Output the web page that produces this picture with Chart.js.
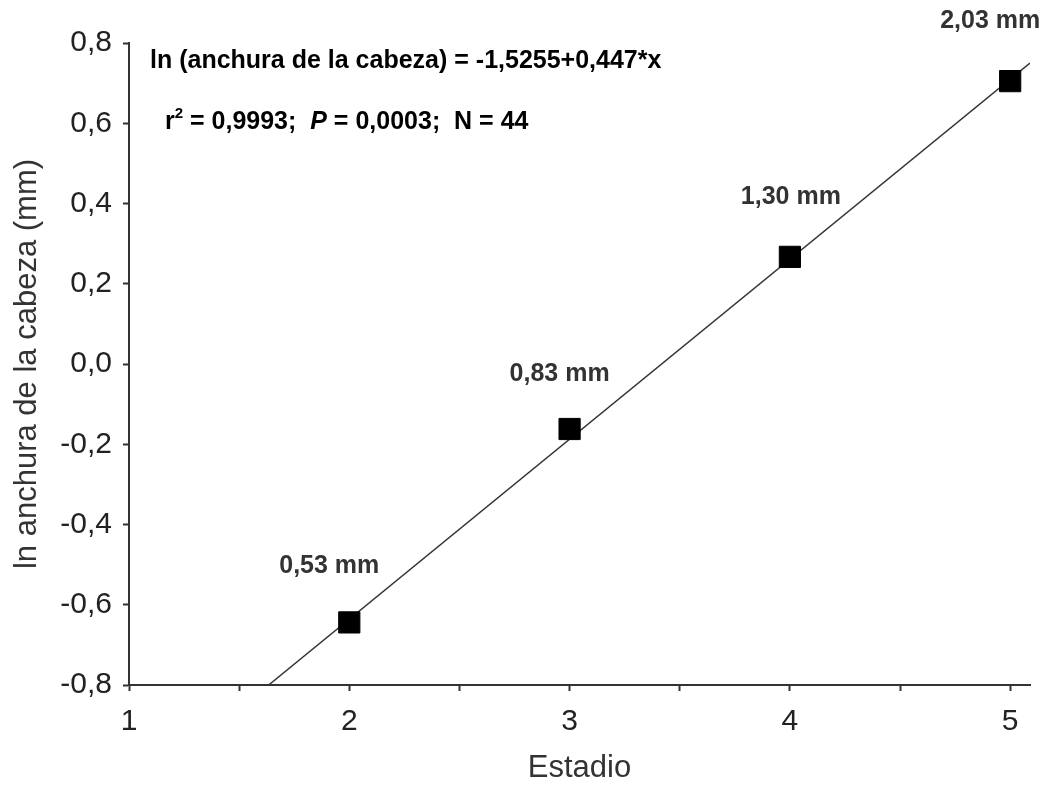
<!DOCTYPE html>
<html>
<head>
<meta charset="utf-8">
<title>ln anchura de la cabeza vs Estadio</title>
<script src="https://cdn.jsdelivr.net/npm/chart.js@4/dist/chart.umd.min.js"></script>
<style>
  html, body { margin: 0; padding: 0; background: #fff; }
  #wrap { width: 1049px; height: 785px; }
</style>
</head>
<body>
<div id="wrap"><canvas id="chart" width="1049" height="785"></canvas></div>
<script>
// ---- data ----
var stages = [2, 3, 4, 5];
var lnWidth = [-0.644, -0.162, 0.267, 0.705];
var widthLabels = ['0,53 mm', '0,83 mm', '1,30 mm', '2,03 mm'];

// fitted line, end points as they appear in the figure
var fitX = [1.634, 5.09];
var fitY = [-0.8, 0.750];

var xTickValues = [1, 1.5, 2, 2.5, 3, 3.5, 4, 4.5, 5];
var xTickLabels = ['1', '', '2', '', '3', '', '4', '', '5'];
var yTickValues = [-0.8, -0.6, -0.4, -0.2, 0, 0.2, 0.4, 0.6, 0.8];
var yTickLabels = ['-0,8', '-0,6', '-0,4', '-0,2', '0,0', '0,2', '0,4', '0,6', '0,8'];

var FONT = '"Liberation Sans", Arial, sans-serif';

// label offsets (px) from each marker
var labelOffsets = [[-20, -56], [-10, -55], [1, -60], [-20, -60]];

var annotations = {
    id: 'annotations',
    afterDatasetsDraw: function (chart) {
        var ctx = chart.ctx;
        var xs = chart.scales.x, ys = chart.scales.y;
        ctx.save();

        // value labels above the markers
        ctx.font = 'bold 25px ' + FONT;
        ctx.fillStyle = '#333';
        ctx.textAlign = 'center';
        ctx.textBaseline = 'middle';
        for (var i = 0; i < stages.length; i++) {
            var px = xs.getPixelForValue(stages[i]) + labelOffsets[i][0];
            var py = ys.getPixelForValue(lnWidth[i]) + labelOffsets[i][1];
            ctx.fillText(widthLabels[i], px, py);
        }

        // regression equation
        ctx.fillStyle = '#000';
        ctx.textAlign = 'left';
        ctx.textBaseline = 'alphabetic';
        ctx.font = 'bold 25px ' + FONT;
        ctx.fillText('ln (anchura de la cabeza) = -1,5255+0,447*x', 150, 68);

        var x = 165, y = 129;
        var parts = [
            ['r', 'bold 25px '],
            ['2', 'bold 15px ', -11],
            [' = 0,9993;  ', 'bold 25px '],
            ['P', 'italic bold 25px '],
            [' = 0,0003;  N = 44', 'bold 25px ']
        ];
        parts.forEach(function (p) {
            ctx.font = p[1] + FONT;
            ctx.fillText(p[0], x, y + (p[2] || 0));
            x += ctx.measureText(p[0]).width;
        });
        ctx.restore();
    }
};

new Chart(document.getElementById('chart'), {
    type: 'scatter',
    data: {
        datasets: [{
            label: 'ln anchura',
            data: stages.map(function (s, i) { return { x: s, y: lnWidth[i] }; }),
            pointStyle: 'rect',
            pointRadius: 15,
            pointHoverRadius: 15,
            backgroundColor: '#000',
            borderColor: '#000',
            borderWidth: 1
        }, {
            type: 'line',
            label: 'ajuste',
            data: fitX.map(function (v, i) { return { x: v, y: fitY[i] }; }),
            borderColor: '#333',
            borderWidth: 1.5,
            pointRadius: 0,
            fill: false
        }]
    },
    options: {
        responsive: false,
        animation: false,
        layout: { padding: { top: 43, right: 19, left: 0, bottom: 0 } },
        plugins: {
            legend: { display: false },
            tooltip: { enabled: false }
        },
        scales: {
            x: {
                type: 'linear',
                min: 1,
                max: 5.09,
                afterFit: function (s) { s.height = 100; },
                afterBuildTicks: function (s) {
                    s.ticks = xTickValues.map(function (v) { return { value: v }; });
                },
                border: { display: true, color: '#333', width: 2 },
                grid: { drawOnChartArea: false, drawTicks: true, tickLength: 6, tickColor: '#333', tickWidth: 2 },
                ticks: {
                    autoSkip: false,
                    maxRotation: 0,
                    padding: 13,
                    color: '#222',
                    font: { family: FONT, size: 30 },
                    callback: function (v, i) { return xTickLabels[i]; }
                },
                title: {
                    display: true,
                    text: 'Estadio',
                    color: '#333',
                    font: { family: FONT, size: 31, lineHeight: 1.05 },
                    padding: { top: 0, bottom: 0 }
                }
            },
            y: {
                type: 'linear',
                min: -0.8,
                max: 0.8,
                afterFit: function (s) { s.width = 129; },
                afterBuildTicks: function (s) {
                    s.ticks = yTickValues.map(function (v) { return { value: v }; });
                },
                border: { display: true, color: '#333', width: 2 },
                grid: { drawOnChartArea: false, drawTicks: true, tickLength: 6, tickColor: '#333', tickWidth: 2 },
                ticks: {
                    autoSkip: false,
                    padding: 11,
                    color: '#222',
                    font: { family: FONT, size: 30 },
                    callback: function (v, i) { return yTickLabels[i]; }
                },
                title: {
                    display: true,
                    text: 'ln anchura de la cabeza (mm)',
                    color: '#333',
                    font: { family: FONT, size: 31 },
                    padding: { top: 9, bottom: 0 }
                }
            }
        }
    },
    plugins: [annotations]
});
</script>
</body>
</html>
